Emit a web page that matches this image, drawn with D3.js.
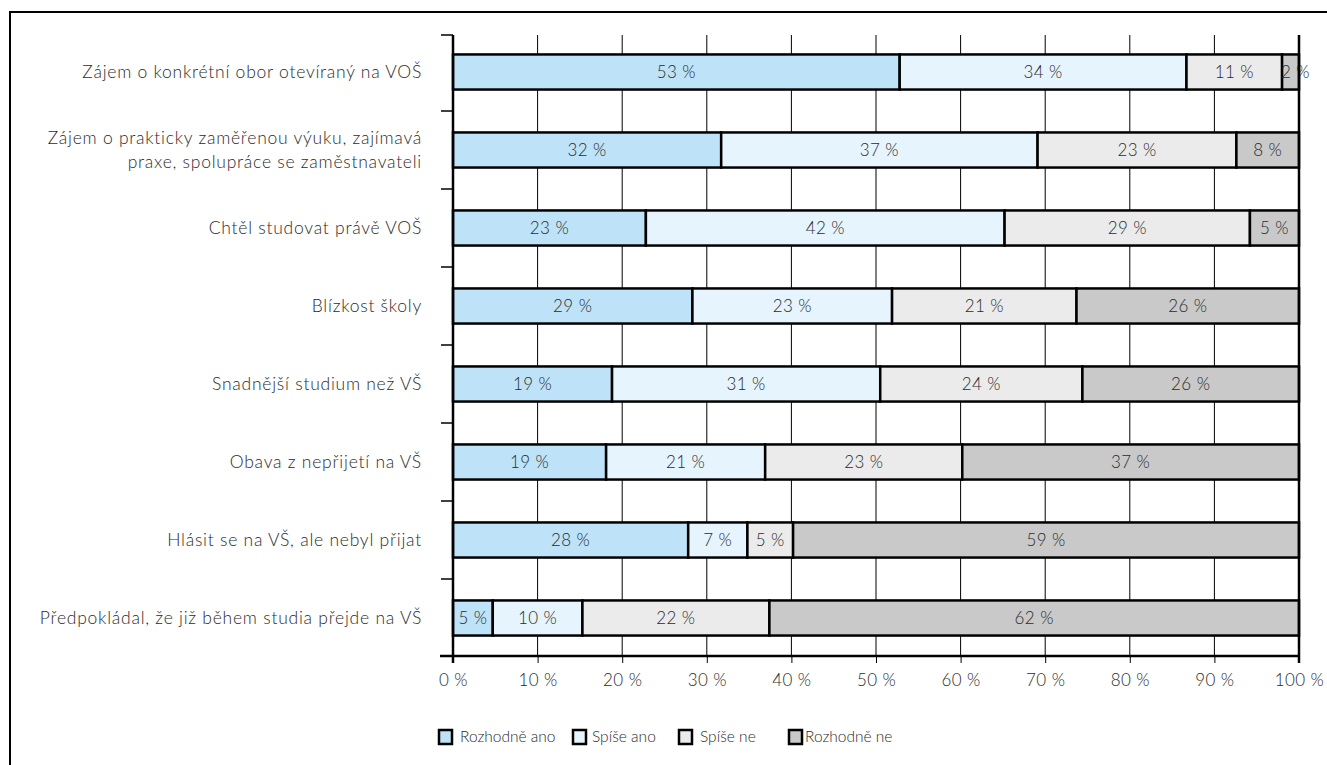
<!DOCTYPE html>
<html><head><meta charset="utf-8">
<script src="https://cdn.jsdelivr.net/npm/d3@7"></script>
<style>
html,body{margin:0;padding:0;background:#fff;}
svg text{font-family:"Lato","Open Sans",sans-serif;font-weight:300;fill:#2b2b2b;}
</style></head>
<body><svg id="c" width="1327" height="765"></svg>
<script>
const categories = [
  ["Zájem o konkrétní obor otevíraný na VOŠ"],
  ["Zájem o prakticky zaměřenou výuku, zajímavá", "praxe, spolupráce se zaměstnavateli"],
  ["Chtěl studovat právě VOŠ"],
  ["Blízkost školy"],
  ["Snadnější studium než VŠ"],
  ["Obava z nepřijetí na VŠ"],
  ["Hlásit se na VŠ, ale nebyl přijat"],
  ["Předpokládal, že již během studia přejde na VŠ"]
];
const seriesNames = ["Rozhodně ano", "Spíše ano", "Spíše ne", "Rozhodně ne"];
const seriesColors = ["#bee3f8", "#e6f4fd", "#ebebeb", "#c8c9c8"];
// segment widths as drawn in the picture (percent)
const rozhodneAno = [52.8, 31.7, 22.8, 28.3, 18.8, 18.1, 27.8, 4.7];
const spiseAno    = [33.9, 37.4, 42.4, 23.6, 31.7, 18.8, 7.0, 10.6];
const spiseNe     = [11.3, 23.5, 29.0, 21.8, 23.9, 23.3, 5.4, 22.1];
const rozhodneNe  = [2.0, 7.4, 5.8, 26.3, 25.6, 39.8, 59.8, 62.6];
// printed labels
const labAno  = [53, 32, 23, 29, 19, 19, 28, 5];
const labSA   = [34, 37, 42, 23, 31, 21, 7, 10];
const labSN   = [11, 23, 29, 21, 24, 23, 5, 22];
const labNe   = [2, 8, 5, 26, 26, 37, 59, 62];
const xTicks = [0,10,20,30,40,50,60,70,80,90,100];

const svg = d3.select("#c");
svg.append("path").attr("d","M10,765 V12 H1327").attr("fill","none").attr("stroke","#000").attr("stroke-width",2);

const x = d3.scaleLinear().domain([0,100]).range([453,1299]);
const y = d3.scaleBand().domain(d3.range(categories.length)).range([33,657]).paddingInner(0.55).paddingOuter(0.275);
const plotTop = 35, plotBottom = 656;

svg.append("g").selectAll("line").data(xTicks.slice(1,-1)).join("line")
  .attr("x1",d=>x(d)).attr("x2",d=>x(d)).attr("y1",plotTop).attr("y2",plotBottom)
  .attr("stroke","#000").attr("stroke-width",1);

const series = [rozhodneAno, spiseAno, spiseNe, rozhodneNe];
const labels = [labAno, labSA, labSN, labNe];
const rows = categories.map((c,i)=>{
  let acc=0; return series.map((s,k)=>{const seg={i,k,x0:acc,x1:acc+s[i],lab:labels[k][i]}; acc+=s[i]; return seg;});
});
const segs = rows.flat();
const g = svg.append("g");
g.selectAll("rect").data(segs).join("rect")
  .attr("x",d=>x(d.x0)).attr("width",d=>x(d.x1)-x(d.x0))
  .attr("y",d=>y(d.i)).attr("height",y.bandwidth())
  .attr("fill",d=>seriesColors[d.k]).attr("stroke","#000").attr("stroke-width",2.5);
g.selectAll("text").data(segs).join("text")
  .attr("x",d=>(x(d.x0)+x(d.x1))/2 + (d.x1-d.x0<3?5:0)).attr("y",d=>y(d.i)+y.bandwidth()/2)
  .attr("dy","0.35em").attr("text-anchor","middle").attr("font-size",17).attr("letter-spacing",0.4)
  .text(d=>d.lab+" %");

const xAxis = d3.axisBottom(x).tickValues(xTicks).tickSize(7).tickFormat(d=>d+" %");
const ax = svg.append("g").attr("transform",`translate(0,${plotBottom})`).call(xAxis);
ax.select(".domain").remove();
ax.selectAll(".tick line").attr("stroke","#000").attr("stroke-width",1);
ax.selectAll(".tick text").attr("font-size",17).attr("letter-spacing",0.4).attr("dy","1.15em").style("font-family","Lato, sans-serif").style("font-weight",300).attr("fill","#2b2b2b");
svg.append("line").attr("x1",440).attr("x2",x(100)+1).attr("y1",plotBottom).attr("y2",plotBottom).attr("stroke","#000").attr("stroke-width",2.5);
svg.append("line").attr("x1",x(0)).attr("x2",x(0)).attr("y1",plotTop).attr("y2",plotBottom+7).attr("stroke","#000").attr("stroke-width",2.5);
svg.append("line").attr("x1",x(100)).attr("x2",x(100)).attr("y1",plotTop).attr("y2",plotBottom+7).attr("stroke","#000").attr("stroke-width",2.5);
const edges = d3.range(categories.length+1).map(i=>y.range()[0]+i*y.step());
edges[0]=plotTop; edges[edges.length-1]=plotBottom;
svg.append("g").selectAll("line").data(edges).join("line")
  .attr("x1",441).attr("x2",x(0)).attr("y1",d=>d).attr("y2",d=>d).attr("stroke","#000").attr("stroke-width",1.5);

const cl = svg.append("g").selectAll("text").data(categories).join("text")
  .attr("x",422).attr("y",(d,i)=>y(i)+y.bandwidth()/2).attr("text-anchor","end").attr("font-size",17.5).attr("letter-spacing",0.75);
cl.each(function(d){
  const t=d3.select(this); const n=d.length;
  d.forEach((line,j)=>t.append("tspan").attr("x",422).attr("dy", j===0? (0.35-(n-1)*0.7)+"em" : "1.4em").text(line));
});

const legX = [438, 572, 678, 788];
const lg = svg.append("g").selectAll("g").data(seriesNames).join("g").attr("transform",(d,i)=>`translate(${legX[i]},729)`);
lg.append("rect").attr("x",1).attr("y",1).attr("width",13).attr("height",14).attr("fill",(d,i)=>seriesColors[i]).attr("stroke","#000").attr("stroke-width",2.5);
lg.append("text").attr("x",(d,i)=>[22,20,22,17][i]).attr("y",8).attr("dy","0.35em").attr("font-size",15.5).text(d=>d);
</script></body></html>
